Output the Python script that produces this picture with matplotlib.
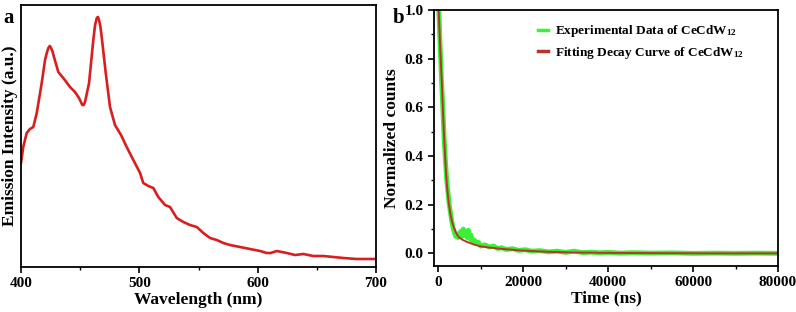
import numpy as np
import matplotlib.pyplot as plt
from matplotlib.ticker import MultipleLocator

plt.rcParams['font.family'] = ['Liberation Serif', 'DejaVu Serif']
plt.rcParams['font.weight'] = 'bold'
plt.rcParams['mathtext.fontset'] = 'custom'
plt.rcParams['mathtext.rm'] = 'Liberation Serif:bold'
plt.rcParams['mathtext.bf'] = 'Liberation Serif:bold'
plt.rcParams['mathtext.it'] = 'Liberation Serif:bold'

# (a) emission spectrum, arbitrary units
wavelength = [400.0, 401.9, 404.8, 407.6, 410.4, 413.3, 417.5, 420.3, 422.0, 423.1, 424.3,
              425.4, 426.5, 428.1, 431.5, 435.7, 441.4, 445.6, 449.0, 450.6, 451.8, 453.0,
              454.1, 457.5, 461.1, 462.6, 464.0, 465.0, 465.9, 467.0, 468.2, 471.6, 475.2,
              479.4, 484.5, 489.3, 494.9, 500.6, 503.3, 507.6, 511.8, 516.0, 521.7, 525.9,
              531.6, 537.2, 542.8, 548.5, 554.1, 559.7, 565.4, 571.0, 576.6, 585.1, 593.5,
              602.0, 607.6, 611.0, 616.1, 624.6, 631.5, 638.6, 647.0, 655.5, 663.9, 672.4,
              683.7, 700.0]
intensity = [103, 119, 133, 137, 139, 153, 183, 206, 214, 218, 220,
             218, 215, 208, 194, 188, 179, 174, 168, 164, 161, 161,
             164, 183, 226, 241, 248, 249, 246, 240, 229, 193, 159,
             141, 131, 119, 106, 93, 83, 80, 78, 69, 61, 59,
             48, 44, 41, 39, 33, 28, 26, 23, 21, 19, 17,
             15, 13, 13, 15, 13, 11, 12, 10, 10, 9, 8,
             7, 7]

# (b) decay curve
t_exp = [0, 200, 500, 800, 1100, 1400, 1700, 2000, 2300, 2600, 2900, 3200, 3500,
         3800, 4100, 4400, 4700, 5000, 5300, 5600, 5900, 6200, 6500, 6800, 7100,
         7400, 7700, 8000, 8500, 9000, 9500, 10000, 11000, 12000, 13000, 14000,
         15000, 16000, 17500, 19000, 20500, 22000, 24000, 26000, 28000, 30000,
         32000, 34000, 36000, 38000, 40000, 43000, 46000, 50000, 55000, 60000,
         65000, 70000, 75000, 80000]
y_exp = [1.05, 0.97, 0.83, 0.70, 0.59, 0.47, 0.38, 0.30, 0.25, 0.20, 0.165, 0.13, 0.105,
         0.085, 0.07, 0.08, 0.065, 0.075, 0.09, 0.07, 0.10, 0.075, 0.09, 0.065, 0.095,
         0.06, 0.075, 0.05, 0.055, 0.04, 0.045, 0.03, 0.035, 0.026, 0.03, 0.02,
         0.023, 0.016, 0.019, 0.012, 0.015, 0.009, 0.011, 0.006, 0.009, 0.004,
         0.009, 0.003, 0.005, 0.002, 0.004, 0.001, 0.003, 0.001, 0.002, 0.0,
         0.001, 0.0, 0.001, 0.0]
t_fit = [0, 100, 300, 495, 700, 896, 1080, 1273, 1470, 1674, 1870, 2075, 2450, 2853,
         3230, 3631, 4200, 4810, 5800, 6791, 8300, 9927, 12000, 14643, 19360,
         25000, 30370, 40000, 50000, 65000, 80000]
y_fit = [1.06, 1.0, 0.915, 0.835, 0.755, 0.684, 0.60, 0.52, 0.45, 0.383, 0.325, 0.273,
         0.21, 0.163, 0.132, 0.108, 0.084, 0.067, 0.055, 0.047, 0.037, 0.029, 0.024,
         0.019, 0.012, 0.007, 0.004, 0.002, 0.001, 0.0, 0.0]

fig = plt.figure(figsize=(7.96, 3.12), dpi=100)
ax1 = fig.add_axes([0.0264, 0.1442, 0.446, 0.8408])
ax2 = fig.add_axes([0.5452, 0.1474, 0.4322, 0.8206])

ax1.plot(wavelength, intensity, color='#d81e1e', lw=1.9)
ax1.set_xlim(400, 700)
ax1.set_ylim(-1, 261.3)
ax1.set_yticks([])
ax1.xaxis.set_major_locator(MultipleLocator(100))
ax1.xaxis.set_minor_locator(MultipleLocator(50))
ax1.set_xlabel('Wavelength (nm)', fontsize=12.5, fontweight='bold', labelpad=1)
ax1.set_ylabel('Emission Intensity (a.u.)', fontsize=12.5, fontweight='bold', labelpad=2)

ax2.plot(t_exp, y_exp, color='#38f238', lw=3.5, label=r'Experimental Data of CeCdW$_{12}$')
ax2.plot(t_fit, y_fit, color='#c0302a', lw=1.4, label=r'Fitting Decay Curve of CeCdW$_{12}$')
ax2.set_xlim(-1000, 80000)
ax2.set_ylim(-0.052, 1.0)
ax2.xaxis.set_major_locator(MultipleLocator(20000))
ax2.xaxis.set_minor_locator(MultipleLocator(10000))
ax2.yaxis.set_major_locator(MultipleLocator(0.2))
ax2.yaxis.set_minor_locator(MultipleLocator(0.1))
ax2.yaxis.set_major_formatter(plt.FormatStrFormatter('%.1f'))
ax2.set_xlabel('Time (ns)', fontsize=12.5, fontweight='bold', labelpad=1)
ax2.set_ylabel('Normalized counts', fontsize=12.5, fontweight='bold', labelpad=3)
leg = ax2.legend(loc='upper right', bbox_to_anchor=(0.935, 0.995), frameon=False, fontsize=9.5,
                 handlelength=0.8, handletextpad=0.5, labelspacing=0.45)
for h in leg.get_lines():
    h.set_linewidth(2.5)

for ax in (ax1, ax2):
    for s in ax.spines.values():
        s.set_linewidth(1.3)
    ax.tick_params(which='major', direction='out', length=4, width=1.2, labelsize=11)
    ax.tick_params(which='minor', direction='out', length=2.5, width=1.0)
    for lab in ax.get_xticklabels() + ax.get_yticklabels():
        lab.set_fontweight('bold')

fig.text(0.004, 0.975, 'a', fontsize=15, fontweight='bold', va='top')
fig.text(0.493, 0.975, 'b', fontsize=15, fontweight='bold', va='top')

fig.savefig('out.png', dpi=100)
